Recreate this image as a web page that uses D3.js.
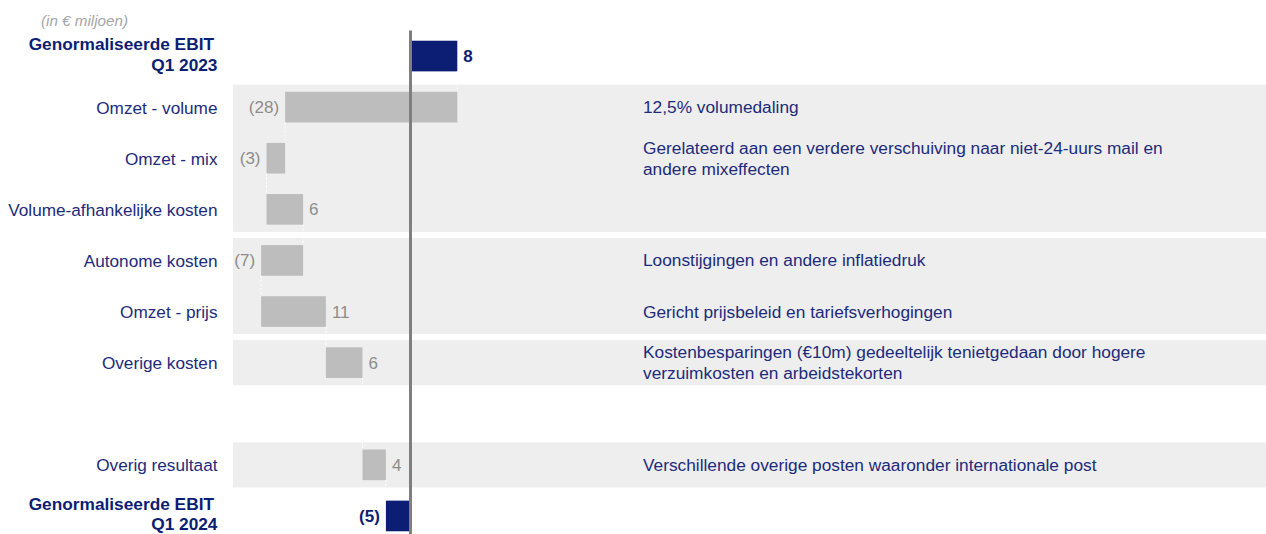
<!DOCTYPE html>
<html>
<head>
<meta charset="utf-8">
<script src="https://cdn.jsdelivr.net/npm/d3@7"></script>
<style>
	body { margin: 0; background: #fff; }
	svg { display: block; font-family: "Liberation Sans", Arial, sans-serif; }
</style>
</head>
<body>
<div id="graphic"></div>
<script>
// categories, top to bottom ("" is the empty spacer row)
const categories = [
	"Genormaliseerde EBIT\nQ1 2023",
	"Omzet - volume",
	"Omzet - mix",
	"Volume-afhankelijke kosten",
	"Autonome kosten",
	"Omzet - prijs",
	"Overige kosten",
	"",
	"Overig resultaat",
	"Genormaliseerde EBIT\nQ1 2024"
];

// start value and the steps in between
const startValue = 7.8;
const steps = [-28.7, -3.1, 6.1, -7.0, 10.8, 6.1, 3.9];

// printed labels, as in the source
const valueLabels = ["8", "(28)", "(3)", "6", "(7)", "11", "6", "4", "(5)"];

const notes = [
	"",
	"12,5% volumedaling",
	"Gerelateerd aan een verdere verschuiving naar niet-24-uurs mail en\nandere mixeffecten",
	"",
	"Loonstijgingen en andere inflatiedruk",
	"Gericht prijsbeleid en tariefsverhogingen",
	"Kostenbesparingen (€10m) gedeeltelijk tenietgedaan door hogere\nverzuimkosten en arbeidstekorten",
	"",
	"Verschillende overige posten waaronder internationale post",
	""
];

// shaded row groups [first row, last row]
const bandGroups = [[1, 3], [4, 5], [6, 6], [8, 8]];

const width = 1266, height = 534;
const navy = "#0c1e74", textNavy = "#1d2b7c", grey = "#bdbdbd", greyText = "#8c8c8c";

const svg = d3.select("#graphic").append("svg")
	.attr("width", width)
	.attr("height", height);

const y = d3.scaleBand()
	.domain(d3.range(categories.length))
	.range([30.5, 541.5])
	.paddingInner(0.4)
	.paddingOuter(0.2);

const x = d3.scaleLinear()
	.domain([-40, 10])
	.range([170.5, 470.5]);

// build waterfall pieces
let rows = categories.map((c, i) => i).filter(i => categories[i] !== "");
let bars = [];
let run = startValue;
bars.push({ row: rows[0], x0: 0, x1: startValue, total: true, label: valueLabels[0] });
steps.forEach((s, i) => {
	bars.push({ row: rows[i + 1], x0: run, x1: run + s, total: false, label: valueLabels[i + 1] });
	run += s;
});
bars.push({ row: rows[rows.length - 1], x0: 0, x1: run, total: true, label: valueLabels[valueLabels.length - 1] });

const slot = y.step();
const pad = slot * 0.2;

// grey background bands
svg.append("g")
	.selectAll("rect")
	.data(bandGroups)
	.join("rect")
	.attr("x", 233)
	.attr("width", width - 233)
	.attr("y", d => y(d[0]) - pad + 3)
	.attr("height", d => (y(d[1]) + y.bandwidth() + pad - 3) - (y(d[0]) - pad + 3))
	.attr("fill", "#eeeeee");

// bars
svg.append("g")
	.selectAll("rect")
	.data(bars)
	.join("rect")
	.attr("x", d => x(Math.min(d.x0, d.x1)))
	.attr("width", d => Math.abs(x(d.x1) - x(d.x0)))
	.attr("y", d => y(d.row))
	.attr("height", y.bandwidth())
	.attr("fill", d => d.total ? navy : grey);

// dashed connectors
svg.append("g")
	.selectAll("line")
	.data(bars.slice(0, -1))
	.join("line")
	.attr("x1", d => x(d.x1))
	.attr("x2", d => x(d.x1))
	.attr("y1", d => y(d.row) + y.bandwidth())
	.attr("y2", (d, i) => y(bars[i + 1].row))
	.attr("stroke", "#fff")
	.attr("stroke-width", 1)
	.attr("stroke-dasharray", "2,2");

// zero line
svg.append("line")
	.attr("x1", x(0)).attr("x2", x(0))
	.attr("y1", 30.5).attr("y2", height)
	.attr("stroke", "#7f7f7f")
	.attr("stroke-width", 3);

// value labels
svg.append("g")
	.selectAll("text")
	.data(bars)
	.join("text")
	.attr("x", d => d.x1 >= d.x0 ? x(d.x1) + 6 : x(d.x1) - 6)
	.attr("y", d => y(d.row) + y.bandwidth() / 2 + 6)
	.attr("text-anchor", d => d.x1 >= d.x0 ? "start" : "end")
	.attr("font-size", 17)
	.attr("font-weight", d => d.total ? "bold" : "normal")
	.attr("fill", d => d.total ? navy : greyText)
	.text(d => d.label);

// category labels
const catG = svg.append("g");
categories.forEach((c, i) => {
	if (c === "") return;
	const lines = c.split("\n");
	const bold = lines.length > 1;
	const cy = y(i) + y.bandwidth() / 2;
	const t = catG.append("text")
		.attr("text-anchor", "end")
		.attr("font-size", bold ? 17.3 : 17.2)
		.attr("font-weight", bold ? "bold" : "normal")
		.attr("fill", bold ? navy : textNavy);
	lines.forEach((l, j) => {
		t.append("tspan")
			.attr("x", bold && j === 0 ? 214 : 217.5)
			.attr("y", bold ? cy - 6 + j * 20.5 : cy + 6.5)
			.text(l);
	});
});

// explanatory notes
const noteG = svg.append("g");
notes.forEach((n, i) => {
	if (n === "") return;
	const lines = n.split("\n");
	const cy = y(i) + y.bandwidth() / 2;
	const t = noteG.append("text")
		.attr("font-size", 17.3)
		.attr("fill", textNavy);
	lines.forEach((l, j) => {
		t.append("tspan")
			.attr("x", 643)
			.attr("y", cy + 6 + (j - (lines.length - 1) / 2) * 20.5)
			.text(l);
	});
});

// unit note
svg.append("text")
	.attr("x", 41)
	.attr("y", 26)
	.attr("font-size", 15.2)
	.attr("font-style", "italic")
	.attr("fill", "#a6a6a6")
	.text("(in € miljoen)");
</script>
</body>
</html>
